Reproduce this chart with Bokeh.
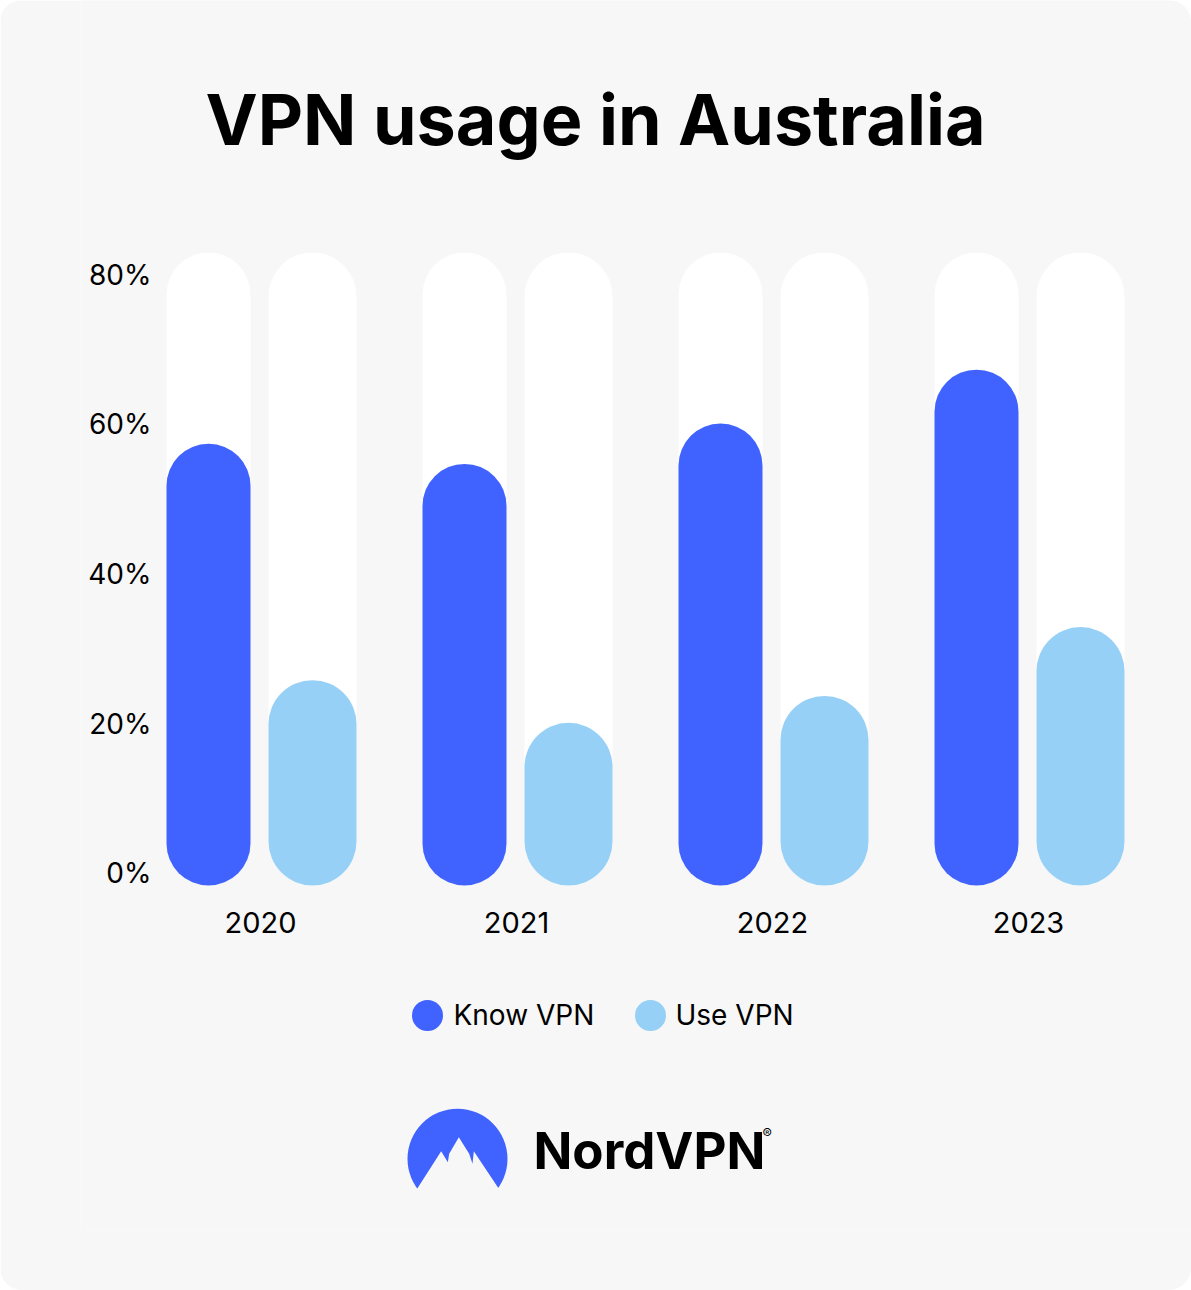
from bokeh.plotting import figure
from bokeh.models import Range1d, LinearAxis, FixedTicker, Label
from bokeh.embed import file_html
from bokeh.resources import INLINE
from bokeh.core.properties import value

# ---------------- data ----------------
years = ["2020", "2021", "2022", "2023"]
know_vpn = [57.4, 54.7, 60.1, 67.3]
use_vpn = [25.8, 20.1, 23.7, 32.9]
y_ticks = [0, 20, 40, 60, 80]
y_tick_labels = ["0%", "20%", "40%", "60%", "80%"]
series_names = ["Know VPN", "Use VPN"]
series_colors = ["#4062ff", "#97d0f7"]
title_text = "VPN usage in Australia"
brand_text = "NordVPN"

# ---------------- layout helpers ----------------
BG = "#f7f7f7"
FONT = "Inter"
W, H = 1191, 1290
FRAME_L, FRAME_B = 80, 60
Y0_PX, PX_PER_PCT = 872.8, 7.484      # canvas px of 0 %, px per 1 %
X0_PX, PX_PER_GROUP = 260.0, 256.0    # canvas px of first group, px per group


def dx(px):
    return (px - X0_PX) / PX_PER_GROUP


def dy(py):
    return (Y0_PX - py) / PX_PER_PCT


p = figure(width=W, height=H, output_backend="svg", toolbar_location=None,
           x_range=Range1d(dx(FRAME_L), dx(W)), y_range=Range1d(dy(H - FRAME_B), dy(0)),
           x_axis_location=None, y_axis_location=None,
           min_border_left=FRAME_L, min_border_bottom=FRAME_B,
           min_border_top=0, min_border_right=0,
           background_fill_color=BG, border_fill_color=BG, outline_line_color=None)
p.xgrid.grid_line_color = None
p.ygrid.grid_line_color = None
p.styles = {"border-radius": "22px", "overflow": "hidden"}

# ---------------- axes ----------------
yaxis = LinearAxis(fixed_location=dx(162), ticker=FixedTicker(ticks=y_ticks),
                   major_label_overrides=dict(zip(y_ticks, y_tick_labels)),
                   axis_line_color=None, major_tick_line_color=None, minor_tick_line_color=None,
                   major_label_standoff=5, major_label_text_font=FONT,
                   major_label_text_font_size="28px", major_label_text_color="#000000")
p.add_layout(yaxis, "left")

group_x = list(range(len(years)))
xaxis = LinearAxis(fixed_location=dy(900), ticker=FixedTicker(ticks=group_x),
                   major_label_overrides=dict(zip(group_x, years)),
                   axis_line_color=None, major_tick_line_color=None, minor_tick_line_color=None,
                   major_label_standoff=5, major_label_text_font=FONT,
                   major_label_text_font_size="29px", major_label_text_color="#000000")
p.add_layout(xaxis, "below")

# ---------------- bars (pills) ----------------
OFFSET = 52 / PX_PER_GROUP
KNOW_W, USE_W = 84 / PX_PER_GROUP, 88 / PX_PER_GROUP
BASE = dy(885)
TRACK_TOP = dy(252)
know_x = [g - OFFSET for g in group_x]
use_x = [g + OFFSET for g in group_x]

for xs, w, r in ((know_x, KNOW_W, 42), (use_x, USE_W, 44)):
    p.vbar(x=xs, width=w, bottom=BASE, top=TRACK_TOP, fill_color="white",
           line_color=None, border_radius=r)

p.vbar(x=know_x, width=KNOW_W, bottom=BASE, top=know_vpn, fill_color=series_colors[0],
       line_color=None, border_radius=42)
p.vbar(x=use_x, width=USE_W, bottom=BASE, top=use_vpn, fill_color=series_colors[1],
       line_color=None, border_radius=44)

# ---------------- title ----------------
p.add_layout(Label(x=dx(595), y=dy(119), text=title_text, text_align="center",
                   text_baseline="alphabetic", text_font=FONT, text_font_style="bold",
                   text_font_size="70px", text_color="#000000"))

# ---------------- legend ----------------
p.scatter(x=[dx(427), dx(650)], y=[dy(1015)] * 2, size=31, fill_color=series_colors,
          line_color=None)
p.text(x=[dx(453), dx(675)], y=[dy(1014.5)] * 2, text=series_names,
       text_font=value(FONT), text_font_size="28px", text_align="left",
       text_baseline="alphabetic", text_color="#000000")

# ---------------- logo ----------------
p.scatter(x=[dx(457)], y=[dy(1158.3)], size=100, fill_color=series_colors[0], line_color=None)
mask_zoom = [(0, 390), (0, 295), (80, 295), (152, 182), (172, 215), (176, 190), (205, 140),
             (236, 190), (246, 220), (250, 182), (325, 295), (400, 295), (400, 390)]
p.patch(x=[dx(390 + a / 3) for a, b in mask_zoom], y=[dy(1090 + b / 3) for a, b in mask_zoom],
        fill_color=BG, line_color=None)
p.add_layout(Label(x=dx(533), y=dy(1150), text=brand_text, text_align="left",
                   text_baseline="alphabetic", text_font=FONT, text_font_style="bold",
                   text_font_size="51px", text_color="#000000"))
p.add_layout(Label(x=dx(762), y=dy(1133), text="®", text_align="left",
                   text_baseline="alphabetic", text_font=FONT,
                   text_font_size="14px", text_color="#000000"))

open("out.html", "w").write(file_html(p, INLINE))
